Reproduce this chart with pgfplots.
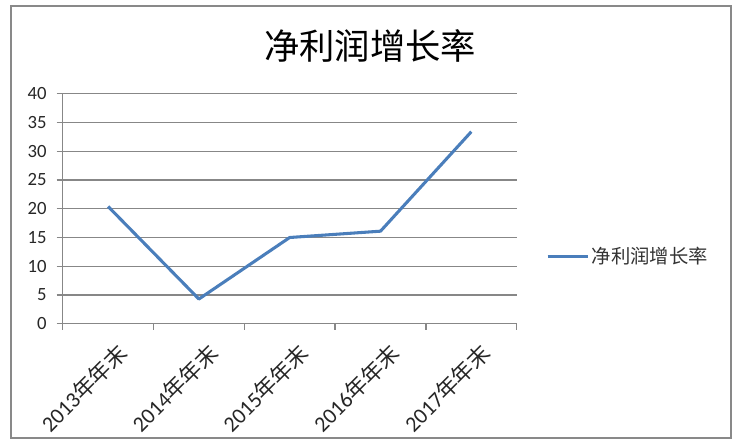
\documentclass[border=0pt]{standalone}
\usepackage{pgfplots}
\pgfplotsset{compat=1.18}
\usepackage{fontspec}
\setmainfont{Carlito}
\newfontfamily\cjk{Noto Sans CJK SC}
\definecolor{lineblue}{HTML}{4A7EBB}
\definecolor{gridgray}{HTML}{878787}
\definecolor{framegray}{HTML}{898989}
\begin{document}
\begin{tikzpicture}[x=1pt,y=1pt]
  % page = 739x445 px at 0.75pt per px, axis origin at px (62.7,323.7)
  \path[use as bounding box] (-47.0,-91.0) rectangle (507.2,242.8);
  \draw[framegray, line width=1.5pt] (-38.8,-85.7) rectangle (501.2,238.3);
  \node[font=\cjk\fontsize{26.5}{28}\selectfont] at (230.5,208.6) {净利润增长率};

  \begin{axis}[
      at={(0,0)}, anchor=south west,
      scale only axis,
      width=340.5pt, height=172.5pt,
      xmin=-0.5, xmax=4.5,
      ymin=0, ymax=40,
      ytick={0,5,...,40},
      xtick={0,...,4},
      xticklabels={2013{\cjk 年年末},2014{\cjk 年年末},2015{\cjk 年年末},2016{\cjk 年年末},2017{\cjk 年年末}},
      minor xtick={-0.5,0.5,...,4.5},
      major x tick style={draw=none},
      axis lines*=left,
      axis line style={gridgray, line width=0.9pt},
      tick align=outside,
      major tick length=4.5pt,
      minor tick length=4.5pt,
      tick style={gridgray, line width=0.9pt},
      ymajorgrids,
      grid style={gridgray, line width=0.9pt},
      /pgf/number format/assume math mode=true,
      yticklabel style={font=\fontsize{14}{15}\selectfont, text=black!85, xshift=-4pt},
      xticklabel style={font=\fontsize{16.5}{17}\selectfont, text=black!85,
                        rotate=45, anchor=north east, yshift=-7pt, xshift=1pt},
      legend style={draw=none, fill=none, at={(1.064,0.294)}, anchor=west,
                    inner sep=0pt, font=\cjk\fontsize{14.5}{15}\selectfont,
                    text=black!80},
      legend cell align=left,
      legend image code/.code={\draw[#1] (0pt,0pt) -- (30pt,0pt);},
    ]
    \addplot[lineblue, line width=2.3pt, line join=round] coordinates {
      (0,20.4) (1,4.3) (2,15.0) (3,16.1) (4,33.4)
    };
    \addlegendentry{净利润增长率}
  \end{axis}
\end{tikzpicture}
\end{document}
